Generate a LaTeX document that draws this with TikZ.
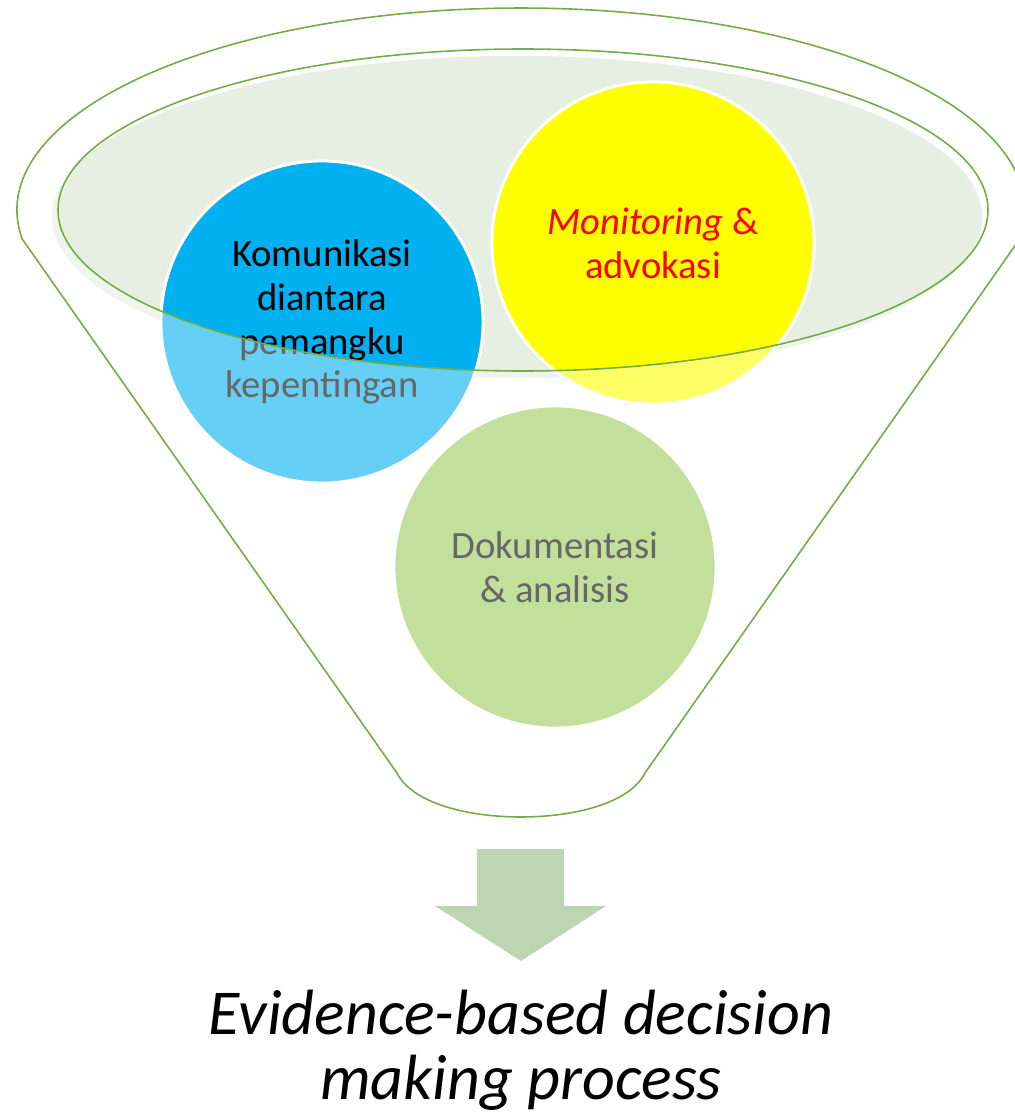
\documentclass[tikz,border=0pt]{standalone}
\usepackage{fontspec}
\setmainfont{Carlito}
\usepackage{tikz}
\usetikzlibrary{positioning}

\definecolor{funnelgreen}{HTML}{70AD47}
\definecolor{rimfill}{HTML}{E7EFE3}
\definecolor{rimshade}{HTML}{EFF4ED}
\definecolor{bluefull}{HTML}{00B0F0}
\definecolor{bluelight}{HTML}{66CFF5}
\definecolor{yellowfull}{HTML}{FFFF00}
\definecolor{yellowlight}{HTML}{FFFF66}
\definecolor{greenlight}{HTML}{C2E09B}
\definecolor{textgray}{HTML}{676767}
\definecolor{arrowgreen}{HTML}{BED5B4}
\definecolor{textred}{HTML}{FF0000}

\begin{document}
\begin{tikzpicture}[
    bubble/.style={circle, draw=white, line width=0.8pt, minimum size=3.22cm,
      inner sep=0pt, align=center, font=\fontsize{11}{12.5}\selectfont},
    funnel/.style={draw=funnelgreen, line width=0.45pt}
  ]
  \useasboundingbox (0,0) rectangle (10.15,11.13);

  % Funnel
  \draw[funnel] (0.222,8.74) arc[start angle=188.25, end angle=-8.25, x radius=5.04cm, y radius=2.02cm]
    -- (6.45,3.40) .. controls (6.30,3.10) and (5.75,2.96) .. (5.21,2.96)
    .. controls (4.67,2.96) and (4.12,3.10) .. (3.97,3.40) -- cycle;

  % Top of the funnel
  \fill[rimshade] (5.17,8.96) ellipse [x radius=4.65cm, y radius=1.61cm];
  \begin{scope}
    \clip (5.17,8.96) ellipse [x radius=4.65cm, y radius=1.61cm];
    \fill[rimfill] (5.23,9.03) ellipse [x radius=4.65cm, y radius=1.61cm];
  \end{scope}

  % Bubbles
  \node[bubble, fill=bluelight, text=textgray] (komu) at (3.22,7.91) {Komunikasi\\diantara\\pemangku\\kepentingan};
  \node[bubble, fill=yellowlight] (moni) at (6.53,8.70) {};
  \node[bubble, fill=greenlight, text=textgray] (doku) at (5.55,5.46) {Dokumentasi\\\& analisis};

  \begin{scope}
    \clip (5.23,9.03) ellipse [x radius=4.65cm, y radius=1.61cm];
    \node[bubble, fill=bluefull] (komuin) at (komu) {Komunikasi\\diantara\\pemangku\\kepentingan};
    \node[bubble, fill=yellowfull, text=textred] (moniin) at (moni) {\textit{Monitoring} \&\\advokasi};
  \end{scope}

  \draw[funnel] (5.23,9.03) ellipse [x radius=4.65cm, y radius=1.61cm];

  % Arrow
  \fill[arrowgreen] (4.77,2.64) -- (5.64,2.64) -- (5.64,2.07) -- (6.06,2.07)
    -- (5.21,1.52) -- (4.35,2.07) -- (4.77,2.07) -- cycle;

  \node[font=\fontsize{18.2}{18.6}\selectfont\itshape, align=center] (result) at (5.21,0.63)
    {Evidence-based decision\\making process};
\end{tikzpicture}
\end{document}
